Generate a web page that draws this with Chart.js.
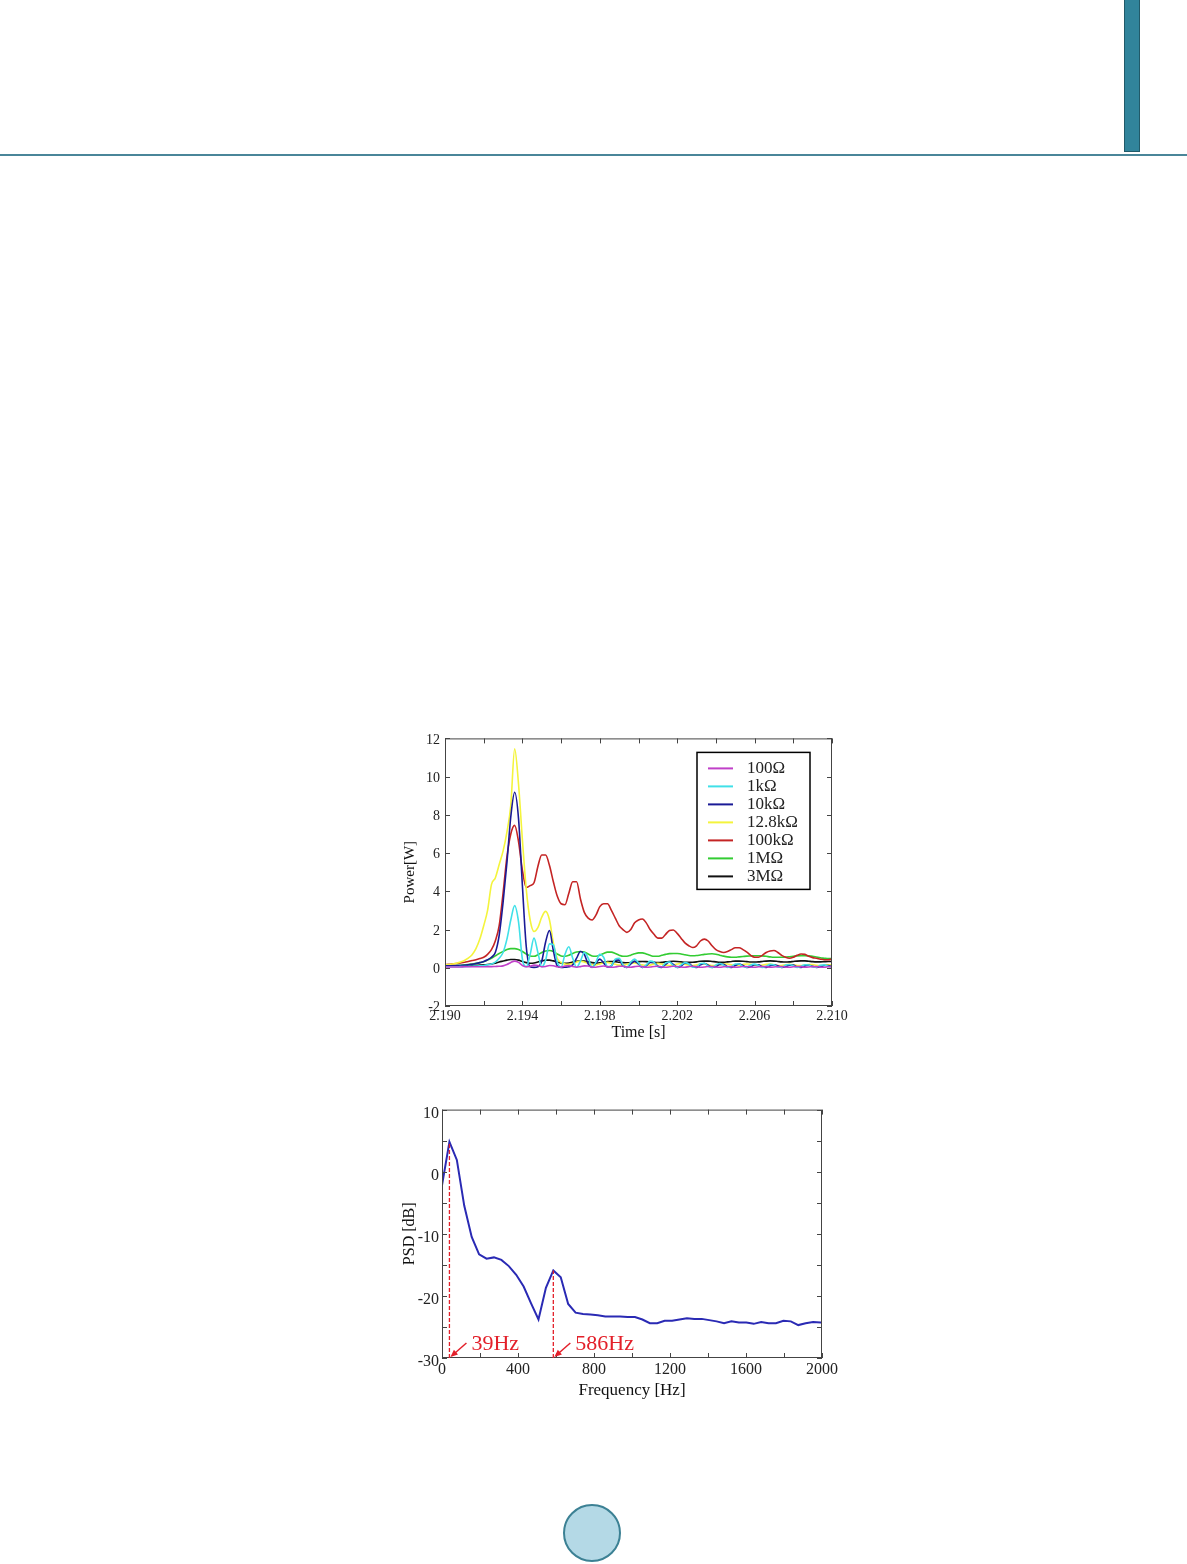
<!DOCTYPE html>
<html>
<head>
<meta charset="utf-8">
<title>Power and PSD</title>
<script src="https://cdn.jsdelivr.net/npm/chart.js"></script>
<style>
  body { margin: 0; background: #fff; width: 1187px; height: 1564px; position: relative; overflow: hidden; }
  .rule { position: absolute; left: 0; top: 154px; width: 1187px; height: 2px; background: #4a8699; }
  .tab { position: absolute; left: 1124px; top: 0; width: 14px; height: 151px; background: #31849b; border: 1px solid #215a69; border-top: none; }
  .page { position: absolute; left: 563px; top: 1504px; width: 54px; height: 54px; border-radius: 50%; background: #b4d9e6; border: 2px solid #3c8194; }
  #power-wrap { position: absolute; left: 401px; top: 725px; width: 449px; height: 317px; }
  #psd-wrap { position: absolute; left: 400px; top: 1097px; width: 442px; height: 304px; }
</style>
</head>
<body>
<div class="rule"></div>
<div class="tab"></div>
<div class="page"></div>
<div id="power-wrap"><canvas id="power-chart" width="449" height="317"></canvas></div>
<div id="psd-wrap"><canvas id="psd-chart" width="442" height="304"></canvas></div>

<script>
// ---- power vs time, sampled every 0.2 ms from 2.190 s ----
const times = Array.from({ length: 101 }, (_, i) => +(2.190 + i * 0.0002).toFixed(4));

const loadLabels = ['100\u03A9', '1k\u03A9', '10k\u03A9', '12.8k\u03A9', '100k\u03A9', '1M\u03A9', '3M\u03A9'];
const loadColors = ['#c040c8', '#40e0e8', '#1a1a96', '#f4f43c', '#c42424', '#33cc33', '#111111'];

const p100 = [0.04,0.04,0.04,0.04,0.04,0.05,0.05,0.05,0.05,0.05,
  0.05,0.06,0.06,0.07,0.08,0.1,0.17,0.28,0.35,0.28,
  0.12,0.05,0.08,0.14,0.12,0.05,0.07,0.12,0.11,0.05,
  0.04,0.09,0.11,0.07,0.03,0.06,0.1,0.09,0.04,0.03,
  0.07,0.09,0.06,0.03,0.04,0.08,0.08,0.04,0.03,0.06,
  0.08,0.06,0.03,0.04,0.07,0.08,0.05,0.03,0.05,0.08,
  0.07,0.04,0.03,0.06,0.08,0.06,0.03,0.04,0.07,0.07,
  0.04,0.03,0.05,0.07,0.06,0.03,0.04,0.07,0.07,0.04,
  0.03,0.05,0.07,0.06,0.03,0.04,0.06,0.07,0.04,0.03,
  0.05,0.07,0.06,0.03,0.04,0.06,0.06,0.04,0.03,0.05,0.06];
const p1k = [0.05,0.05,0.05,0.05,0.06,0.06,0.07,0.08,0.09,0.1,
  0.12,0.15,0.2,0.3,0.5,0.8,1.5,2.5,3.25,2.4,
  0.45,0.05,0.7,1.55,0.8,0.05,0.4,1.25,1.2,0.3,
  0.03,0.7,1.1,0.5,0.03,0.35,0.8,0.5,0.03,0.3,
  0.7,0.55,0.05,0.1,0.45,0.5,0.15,0.02,0.3,0.45,
  0.25,0.02,0.15,0.35,0.3,0.05,0.05,0.25,0.3,0.12,
  0.02,0.15,0.27,0.2,0.03,0.05,0.22,0.24,0.08,0.02,
  0.15,0.22,0.14,0.02,0.06,0.2,0.2,0.06,0.03,0.15,
  0.19,0.12,0.02,0.08,0.18,0.16,0.04,0.03,0.14,0.17,
  0.1,0.02,0.08,0.16,0.14,0.04,0.03,0.13,0.15,0.08,0.03];
const p10k = [0.1,0.1,0.1,0.11,0.12,0.13,0.15,0.18,0.22,0.27,
  0.33,0.42,0.55,0.8,1.7,3.4,5.5,7.9,9.18,7.8,
  4.3,1.1,0.05,0.02,0.05,0.35,1.35,1.95,0.9,0.1,
  0.02,0.03,0.05,0.15,0.5,0.85,0.7,0.2,0.02,0.25,
  0.45,0.25,0.03,0.1,0.4,0.4,0.1,0.02,0.2,0.35,
  0.2,0.02,0.1,0.28,0.28,0.08,0.02,0.18,0.3,0.18,
  0.02,0.08,0.24,0.22,0.06,0.02,0.15,0.22,0.14,0.02,
  0.06,0.18,0.18,0.05,0.02,0.12,0.2,0.12,0.02,0.05,
  0.16,0.16,0.05,0.02,0.1,0.15,0.1,0.02,0.05,0.14,
  0.14,0.04,0.02,0.1,0.13,0.08,0.02,0.05,0.12,0.12,0.05];
const p12k8 = [0.15,0.17,0.2,0.24,0.3,0.38,0.5,0.68,1.0,1.5,
  2.2,3.0,4.35,4.7,5.4,6.1,7.1,8.5,11.45,9.6,
  6.7,4.1,2.5,1.9,2.1,2.65,2.95,2.5,1.3,0.5,
  0.28,0.2,0.18,0.22,0.3,0.35,0.3,0.22,0.16,0.15,
  0.2,0.26,0.28,0.24,0.18,0.14,0.14,0.18,0.24,0.25,
  0.2,0.15,0.12,0.14,0.2,0.23,0.2,0.14,0.12,0.14,
  0.2,0.22,0.18,0.13,0.12,0.15,0.2,0.21,0.17,0.12,
  0.12,0.16,0.2,0.2,0.15,0.12,0.12,0.17,0.2,0.18,
  0.13,0.11,0.14,0.18,0.19,0.15,0.11,0.12,0.16,0.18,
  0.16,0.12,0.11,0.14,0.17,0.17,0.13,0.11,0.13,0.16,0.16];
const p100k = [0.17,0.18,0.2,0.22,0.25,0.29,0.33,0.38,0.42,0.48,
  0.55,0.7,0.95,1.4,2.2,3.9,5.8,7.0,7.45,6.6,
  5.1,4.2,4.3,4.45,5.3,5.9,5.9,5.35,4.5,3.75,
  3.35,3.3,3.9,4.5,4.5,3.6,2.9,2.6,2.5,2.75,
  3.2,3.35,3.35,3.0,2.6,2.2,2.0,1.85,2.0,2.35,
  2.5,2.55,2.35,2.0,1.75,1.55,1.55,1.75,1.95,1.98,
  1.8,1.55,1.3,1.15,1.06,1.15,1.4,1.5,1.4,1.15,
  0.95,0.85,0.8,0.85,0.95,1.05,1.05,0.95,0.82,0.65,
  0.55,0.55,0.65,0.8,0.88,0.9,0.8,0.65,0.55,0.5,
  0.55,0.65,0.72,0.7,0.6,0.53,0.5,0.45,0.42,0.42,0.45];
const p1M = [0.1,0.1,0.11,0.12,0.13,0.15,0.17,0.2,0.23,0.27,
  0.32,0.4,0.5,0.62,0.75,0.85,0.95,1.0,1.0,0.95,
  0.85,0.72,0.62,0.6,0.68,0.8,0.88,0.9,0.85,0.72,
  0.62,0.6,0.65,0.75,0.82,0.85,0.82,0.72,0.62,0.6,
  0.65,0.75,0.82,0.82,0.75,0.66,0.6,0.6,0.66,0.73,
  0.78,0.78,0.72,0.65,0.6,0.6,0.65,0.7,0.74,0.75,
  0.75,0.72,0.68,0.64,0.63,0.64,0.67,0.7,0.72,0.73,
  0.71,0.66,0.61,0.57,0.55,0.55,0.57,0.59,0.61,0.62,
  0.63,0.63,0.62,0.6,0.57,0.55,0.55,0.55,0.56,0.58,
  0.6,0.62,0.63,0.63,0.62,0.6,0.56,0.52,0.5,0.48,0.48];
const p3M = [0.1,0.1,0.1,0.1,0.1,0.11,0.11,0.12,0.13,0.14,
  0.15,0.17,0.2,0.24,0.3,0.35,0.4,0.43,0.43,0.4,
  0.33,0.27,0.24,0.25,0.3,0.36,0.4,0.4,0.36,0.3,
  0.25,0.23,0.25,0.3,0.34,0.36,0.35,0.31,0.27,0.25,
  0.26,0.29,0.32,0.33,0.32,0.29,0.27,0.26,0.27,0.3,
  0.32,0.33,0.32,0.3,0.28,0.27,0.28,0.31,0.33,0.34,
  0.33,0.31,0.29,0.28,0.29,0.31,0.34,0.35,0.35,0.33,
  0.31,0.29,0.29,0.31,0.33,0.35,0.35,0.34,0.32,0.3,
  0.3,0.31,0.33,0.35,0.36,0.35,0.33,0.31,0.3,0.31,
  0.33,0.35,0.36,0.36,0.34,0.32,0.31,0.31,0.32,0.33,0.33];
const powerSeries = [p100, p1k, p10k, p12k8, p100k, p1M, p3M];

// ---- PSD spectrum (FFT bins) ----
const psdFreq = [0,39.1,78.1,117.2,156.3,195.3,234.4,273.4,312.5,351.6,
  390.6,429.7,468.8,507.8,546.9,585.9,625,664.1,703.1,742.2,
  781.3,820.3,859.4,898.4,937.5,976.6,1015.6,1054.7,1093.8,1132.8,
  1171.9,1210.9,1250,1289.1,1328.1,1367.2,1406.3,1445.3,1484.4,1523.4,
  1562.5,1601.6,1640.6,1679.7,1718.8,1757.8,1796.9,1835.9,1875,1914.1,
  1953.1,1992.2,2000];
const psdDb = [-2.2,4.8,1.9,-5.5,-10.5,-13.3,-14.0,-13.8,-14.2,-15.2,
  -16.6,-18.5,-21.2,-23.8,-18.7,-15.9,-17.0,-21.3,-22.7,-22.9,
  -23.0,-23.1,-23.3,-23.3,-23.3,-23.4,-23.4,-23.8,-24.4,-24.4,
  -24.0,-24.0,-23.8,-23.6,-23.7,-23.7,-23.9,-24.1,-24.4,-24.1,
  -24.3,-24.3,-24.5,-24.2,-24.4,-24.4,-24.0,-24.1,-24.7,-24.4,
  -24.2,-24.3,-24.3];
const markerFreqs = [39.1, 585.9];
const markerLabels = ['39Hz', '586Hz'];

const serif = '"Liberation Serif", "DejaVu Serif", serif';

// box frame with inward tick marks on all four sides
const framePlugin = {
  id: 'frame',
  afterDatasetsDraw(chart) {
    const { ctx, chartArea: a, scales: { x, y } } = chart;
    ctx.save();
    ctx.strokeStyle = '#444';
    ctx.lineWidth = 1;
    ctx.strokeRect(a.left + 0.5, a.top + 0.5, a.width - 1, a.height - 1);
    ctx.beginPath();
    x.ticks.forEach(tk => {
      const px = Math.round(x.getPixelForValue(tk.value)) + 0.5;
      ctx.moveTo(px, a.bottom); ctx.lineTo(px, a.bottom - 5);
      ctx.moveTo(px, a.top); ctx.lineTo(px, a.top + 5);
    });
    y.ticks.forEach(tk => {
      const py = Math.round(y.getPixelForValue(tk.value)) + 0.5;
      ctx.moveTo(a.left, py); ctx.lineTo(a.left + 5, py);
      ctx.moveTo(a.right, py); ctx.lineTo(a.right - 5, py);
    });
    ctx.stroke();
    ctx.restore();
  }
};

// boxed legend sitting inside the plot
const boxLegend = {
  id: 'boxLegend',
  afterDraw(chart) {
    const { ctx, chartArea: a } = chart;
    const left = a.left + 252, top = a.top + 14, w = 113, h = 137;
    ctx.save();
    ctx.fillStyle = '#fff';
    ctx.fillRect(left, top, w, h);
    ctx.strokeStyle = '#000';
    ctx.lineWidth = 1.5;
    ctx.strokeRect(left, top, w, h);
    ctx.font = '17px ' + serif;
    ctx.textBaseline = 'middle';
    chart.data.datasets.forEach((ds, i) => {
      const yy = top + 16 + i * 18;
      ctx.strokeStyle = ds.borderColor;
      ctx.lineWidth = 2;
      ctx.beginPath();
      ctx.moveTo(left + 11, yy);
      ctx.lineTo(left + 36, yy);
      ctx.stroke();
      ctx.fillStyle = '#222';
      ctx.fillText(ds.label, left + 50, yy);
    });
    ctx.restore();
  }
};

// dashed drop lines and arrows for the two peaks
const markerPlugin = {
  id: 'markers',
  afterDatasetsDraw(chart) {
    const { ctx, scales: { x, y } } = chart;
    ctx.save();
    markerFreqs.forEach((f, k) => {
      const px = x.getPixelForValue(f);
      const peak = y.getPixelForValue(psdDb[psdFreq.indexOf(f)]);
      const base = y.getPixelForValue(y.min);
      ctx.strokeStyle = '#e3202a';
      ctx.lineWidth = 1.3;
      ctx.setLineDash([4, 2]);
      ctx.beginPath();
      ctx.moveTo(px, base);
      ctx.lineTo(px, peak);
      ctx.stroke();
      ctx.setLineDash([]);
      // arrow
      const tx = px + 1, ty = base - 1, sx = px + 17, sy = base - 15;
      ctx.lineWidth = 1.5;
      ctx.beginPath();
      ctx.moveTo(sx, sy);
      ctx.lineTo(tx + 4, ty - 3.5);
      ctx.stroke();
      const ang = Math.atan2(ty - sy, tx - sx);
      ctx.fillStyle = '#e3202a';
      ctx.beginPath();
      ctx.moveTo(tx, ty);
      ctx.lineTo(tx - 8 * Math.cos(ang - 0.4), ty - 8 * Math.sin(ang - 0.4));
      ctx.lineTo(tx - 8 * Math.cos(ang + 0.4), ty - 8 * Math.sin(ang + 0.4));
      ctx.closePath();
      ctx.fill();
      ctx.font = '22px ' + serif;
      ctx.textBaseline = 'middle';
      ctx.fillText(markerLabels[k], px + 22, base - 14);
    });
    ctx.restore();
  }
};

new Chart(document.getElementById('power-chart'), {
  type: 'line',
  data: {
    datasets: loadLabels.map((lbl, k) => ({
      label: lbl,
      data: times.map((t, i) => ({ x: t, y: powerSeries[k][i] })),
      borderColor: loadColors[k],
      borderWidth: 1.6,
      pointRadius: 0,
      cubicInterpolationMode: 'monotone',
      fill: false
    }))
  },
  options: {
    responsive: false,
    animation: false,
    layout: { padding: { top: 10, right: 18, left: 0, bottom: 0 } },
    plugins: { legend: { display: false }, tooltip: { enabled: false } },
    scales: {
      x: {
        type: 'linear', min: 2.19, max: 2.21,
        grid: { display: false, drawTicks: false },
        border: { display: false },
        ticks: {
          stepSize: 0.002, autoSkip: false, maxRotation: 0, padding: 2,
          color: '#222', font: { family: serif, size: 14 },
          callback: (v, i) => (i % 2 === 0 ? v.toFixed(3) : '')
        },
        title: { display: true, text: 'Time [s]', color: '#111', font: { family: serif, size: 16 }, padding: 0 },
        afterFit: s => { s.height = 36; }
      },
      y: {
        min: -2, max: 12,
        grid: { display: false, drawTicks: false },
        border: { display: false },
        ticks: { stepSize: 2, padding: 5, labelOffset: 1.5, color: '#222', font: { family: serif, size: 14 } },
        title: { display: true, text: 'Power[W]', color: '#111', font: { family: serif, size: 15 }, padding: 0 },
        afterFit: s => { s.width = 44; }
      }
    }
  },
  plugins: [framePlugin, boxLegend]
});

new Chart(document.getElementById('psd-chart'), {
  type: 'line',
  data: {
    datasets: [{
      label: 'PSD',
      data: psdFreq.map((f, i) => ({ x: f, y: psdDb[i] })),
      borderColor: '#2a2ab4',
      borderWidth: 2,
      pointRadius: 0,
      tension: 0,
      fill: false
    }]
  },
  options: {
    responsive: false,
    animation: false,
    layout: { padding: { top: 12, right: 20, left: 0, bottom: 0 } },
    plugins: { legend: { display: false }, tooltip: { enabled: false } },
    scales: {
      x: {
        type: 'linear', min: 0, max: 2000,
        grid: { display: false, drawTicks: false },
        border: { display: false },
        ticks: {
          stepSize: 200, autoSkip: false, maxRotation: 0, padding: 2,
          color: '#222', font: { family: serif, size: 16 },
          callback: (v, i) => (i % 2 === 0 ? String(v) : '')
        },
        title: { display: true, text: 'Frequency [Hz]', color: '#111', font: { family: serif, size: 17 }, padding: 0 },
        afterFit: s => { s.height = 43; }
      },
      y: {
        min: -30, max: 10,
        grid: { display: false, drawTicks: false },
        border: { display: false },
        ticks: {
          stepSize: 5, padding: 3, labelOffset: 4, color: '#222', font: { family: serif, size: 16 },
          callback: (v, i) => (i % 2 === 0 ? String(v) : '')
        },
        title: { display: true, text: 'PSD [dB]', color: '#111', font: { family: serif, size: 16 }, padding: 0 },
        afterFit: s => { s.width = 42; }
      }
    }
  },
  plugins: [framePlugin, markerPlugin]
});
</script>
</body>
</html>
